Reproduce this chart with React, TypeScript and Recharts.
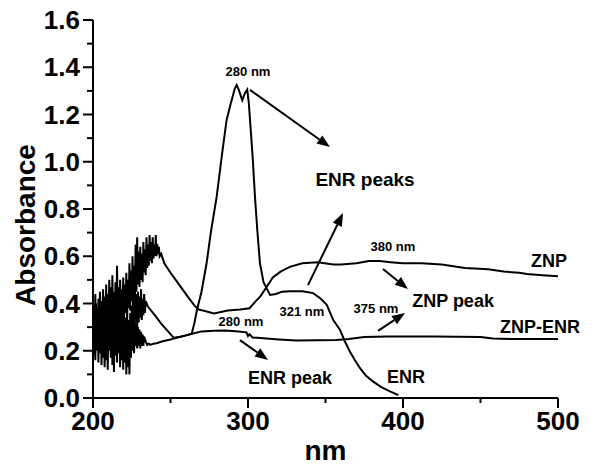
import { LineChart, Line, XAxis, YAxis, ReferenceDot, ReferenceLine } from 'recharts'

// ZNP spectrum (noisy below ~245 nm)
const znpNm = [
  200, 200.5, 201, 201.5, 202, 202.5, 203, 203.5, 204, 204.5, 205, 205.5, 206, 206.5, 207, 207.5,
  208, 208.5, 209, 209.5, 210, 210.5, 211, 211.5, 212, 212.5, 213, 213.5, 214, 214.5, 215, 215.5,
  216, 216.5, 217, 217.5, 218, 218.5, 219, 219.5, 220, 220.5, 221, 221.5, 222, 222.5, 223, 223.5,
  224, 224.5, 225, 225.5, 226, 226.5, 227, 227.5, 228, 228.5, 229, 229.5, 230, 230.5, 231, 231.5,
  232, 232.5, 233, 233.5, 234, 234.5, 235, 235.5, 236, 236.5, 237, 237.5, 238, 238.5, 239, 239.5,
  240, 240.5, 241, 241.5, 242, 242.5, 243, 244, 246, 250, 255, 261, 265, 268, 274, 278,
  287, 295, 301, 305, 308, 312, 316, 321, 327, 335, 345, 355, 360, 370, 378, 385,
  392, 400, 412, 425, 440, 455, 465, 475, 480, 490, 500,
]
const znpAbs = [
  0.22, 0.4, 0.26, 0.44, 0.24, 0.38, 0.21, 0.42, 0.27, 0.45, 0.23, 0.41, 0.28, 0.46, 0.25, 0.43,
  0.22, 0.48, 0.3, 0.44, 0.27, 0.5, 0.31, 0.47, 0.26, 0.52, 0.3, 0.45, 0.28, 0.49, 0.33, 0.56,
  0.31, 0.47, 0.34, 0.5, 0.3, 0.46, 0.35, 0.51, 0.33, 0.48, 0.36, 0.53, 0.34, 0.5, 0.38, 0.57,
  0.37, 0.54, 0.41, 0.6, 0.4, 0.56, 0.44, 0.65, 0.45, 0.68, 0.48, 0.62, 0.47, 0.64, 0.5, 0.61,
  0.49, 0.66, 0.53, 0.63, 0.52, 0.68, 0.55, 0.65, 0.56, 0.69, 0.58, 0.66, 0.57, 0.68, 0.59, 0.65,
  0.6, 0.69, 0.6, 0.65, 0.61, 0.64, 0.6, 0.61, 0.57, 0.53, 0.485, 0.43, 0.395, 0.375, 0.365, 0.358,
  0.37, 0.375, 0.38, 0.41, 0.43, 0.47, 0.51, 0.535, 0.555, 0.57, 0.575, 0.565, 0.565, 0.57, 0.58, 0.58,
  0.575, 0.57, 0.57, 0.565, 0.55, 0.545, 0.535, 0.53, 0.525, 0.52, 0.515,
]

// ZNP-ENR spectrum
const mixNm = [
  200, 200.5, 201, 201.5, 202, 202.5, 203, 203.5, 204, 204.5, 205, 205.5, 206, 206.5, 207, 207.5,
  208, 208.5, 209, 209.5, 210, 210.5, 211, 211.5, 212, 212.5, 213, 213.5, 214, 214.5, 215, 215.5,
  216, 216.5, 217, 217.5, 218, 218.5, 219, 219.5, 220, 220.5, 221, 221.5, 222, 222.5, 223, 223.5,
  224, 224.5, 225, 225.5, 226, 226.5, 227, 227.5, 228, 228.5, 229, 229.5, 230, 230.5, 231, 231.5,
  232, 232.5, 233, 234, 235, 236, 237, 239, 241, 245, 250, 255, 260, 264, 270, 278,
  285, 292, 299, 300, 301, 303, 310, 320, 331, 345, 357, 365, 375, 390, 420, 450,
  458, 470, 500,
]
const mixAbs = [
  0.35, 0.18, 0.38, 0.16, 0.4, 0.2, 0.36, 0.15, 0.42, 0.19, 0.37, 0.14, 0.4, 0.17, 0.35, 0.13,
  0.41, 0.16, 0.38, 0.12, 0.36, 0.2, 0.42, 0.17, 0.38, 0.14, 0.4, 0.11, 0.35, 0.18, 0.39, 0.15,
  0.43, 0.19, 0.37, 0.13, 0.41, 0.16, 0.36, 0.12, 0.39, 0.15, 0.34, 0.1, 0.37, 0.13, 0.33, 0.1,
  0.36, 0.17, 0.39, 0.2, 0.36, 0.19, 0.33, 0.22, 0.31, 0.21, 0.3, 0.22, 0.29, 0.21, 0.28, 0.22,
  0.27, 0.22, 0.26, 0.24, 0.225, 0.23, 0.225, 0.23, 0.232, 0.24, 0.248, 0.257, 0.265, 0.272, 0.282, 0.285,
  0.286, 0.283, 0.278, 0.262, 0.27, 0.256, 0.253, 0.248, 0.243, 0.244, 0.246, 0.25, 0.258, 0.26, 0.26, 0.258,
  0.252, 0.25, 0.25,
]

// ENR spectrum
const enrNm = [
  225.5, 226, 226.5, 227, 227.5, 228, 228.5, 229, 229.5, 230, 230.5, 231, 231.5, 232, 232.5, 233,
  233.5, 234, 235.5, 240, 244, 248, 252, 256, 260, 263.7, 265.5, 267, 270, 273.3, 276, 279.8,
  283, 286.2, 289, 291.5, 292.7, 294, 296.3, 298, 299.5, 300.5, 301.3, 303, 304.5, 306, 307.7, 310,
  311.6, 314.2, 318, 322, 327, 335, 342, 347, 350.8, 355, 359.4, 362.6, 365.8, 369, 372.3, 376,
  380.8, 386, 391.6, 397,
]
const enrAbs = [
  0.32, 0.45, 0.31, 0.46, 0.33, 0.44, 0.3, 0.45, 0.32, 0.43, 0.34, 0.46, 0.33, 0.42, 0.35, 0.44,
  0.36, 0.41, 0.386, 0.35, 0.315, 0.285, 0.255, 0.258, 0.265, 0.272, 0.32, 0.37, 0.45, 0.571, 0.7, 0.852,
  1.02, 1.177, 1.25, 1.31, 1.325, 1.305, 1.26, 1.29, 1.305, 1.25, 1.177, 1.02, 0.852, 0.71, 0.571, 0.49,
  0.47, 0.436, 0.44, 0.45, 0.452, 0.452, 0.444, 0.42, 0.394, 0.33, 0.288, 0.238, 0.196, 0.16, 0.126, 0.095,
  0.069, 0.046, 0.028, 0.012,
]

const xTicks = [200, 250, 300, 350, 400, 450, 500]
const yTicks = [0, 0.1, 0.2, 0.3, 0.4, 0.5, 0.6, 0.7, 0.8, 0.9, 1.0, 1.1, 1.2, 1.3, 1.4, 1.5, 1.6]

// annotation texts: [nm, absorbance, text, fontSize]
const notes: [number, number, string, number][] = [
  [300, 1.38, '280 nm', 13],
  [375.5, 0.923, 'ENR peaks', 19],
  [393.5, 0.643, '380 nm', 13],
  [432.3, 0.41, 'ZNP peak', 18],
  [382.6, 0.377, '375 nm', 13],
  [494.2, 0.58, 'ZNP', 18],
  [488.4, 0.3, 'ZNP-ENR', 18],
  [401.9, 0.089, 'ENR', 18],
  [334.8, 0.368, '321 nm', 13],
  [295.5, 0.322, '280 nm', 13],
  [327.1, 0.085, 'ENR peak', 18],
]

// arrows: from [nm, abs] to [nm, abs]
const arrows: [number, number, number, number][] = [
  [301.3, 1.304, 352.9, 1.062],
  [338.7, 0.478, 361.3, 0.783],
  [387.1, 0.546, 403.2, 0.461],
  [383.9, 0.284, 401.3, 0.36],
  [294.8, 0.245, 312.9, 0.161],
]

const font = '"Liberation Sans", Arial, sans-serif'

const zip = (nm: number[], abs: number[]) => nm.map((n, i) => ({ nm: n, abs: abs[i] }))

const XTick = (props: any) => {
  const { x, y, payload } = props
  const major = payload.value % 100 === 0
  return (
    <g>
      <line x1={x} x2={x} y1={y - 14} y2={y - 14 + (major ? 10 : 5)} stroke="#000" strokeWidth={2} />
      {major && (
        <text x={x} y={y} dy="0.71em" textAnchor="middle" fontSize={26} fontWeight="bold" fontFamily={font} fill="#000">
          {payload.value}
        </text>
      )}
    </g>
  )
}

const YTick = (props: any) => {
  const { x, y, payload } = props
  const major = Math.round(payload.value * 10) % 2 === 0
  return (
    <g>
      <line x1={x + 13 - (major ? 10 : 6)} x2={x + 13} y1={y} y2={y} stroke="#000" strokeWidth={2} />
      {major && (
        <text x={x} y={y} dy="0.355em" textAnchor="end" fontSize={26} fontWeight="bold" fontFamily={font} fill="#000">
          {payload.value.toFixed(1)}
        </text>
      )}
    </g>
  )
}

const Arrow = (props: any) => {
  const { x1, y1, x2, y2 } = props
  const a = Math.atan2(y2 - y1, x2 - x1)
  const len = 13
  const w = 5
  const bx = x2 - len * Math.cos(a)
  const by = y2 - len * Math.sin(a)
  const px = -Math.sin(a) * w
  const py = Math.cos(a) * w
  return (
    <g>
      <line x1={x1} y1={y1} x2={bx} y2={by} stroke="#000" strokeWidth={2} />
      <polygon points={`${x2},${y2} ${bx + px},${by + py} ${bx - px},${by - py}`} fill="#000" />
    </g>
  )
}

export default function App() {
  return (
    <div style={{ position: 'absolute', left: 0, top: 0, width: 611, height: 469, background: '#fff' }}>
      <LineChart width={611} height={469} margin={{ top: 20, right: 53, bottom: 0, left: 0 }}>
        <XAxis
          dataKey="nm"
          type="number"
          domain={[200, 500]}
          ticks={xTicks}
          height={71}
          tickSize={0}
          tickMargin={14}
          tickLine={false}
          axisLine={{ stroke: '#000', strokeWidth: 2 }}
          tick={<XTick />}
          allowDataOverflow
          label={(p: any) => (
            <text
              x={p.viewBox.x + p.viewBox.width / 2}
              y={p.viewBox.y + 62}
              textAnchor="middle"
              fontSize={28}
              fontWeight="bold"
              fontFamily={font}
              fill="#000"
            >
              nm
            </text>
          )}
        />
        <YAxis
          type="number"
          domain={[0, 1.6]}
          ticks={yTicks}
          width={93}
          tickSize={0}
          tickMargin={13}
          tickLine={false}
          axisLine={{ stroke: '#000', strokeWidth: 2 }}
          tick={<YTick />}
          allowDataOverflow
          label={(p: any) => {
            const cx = p.viewBox.x + 25
            const cy = p.viewBox.y + p.viewBox.height / 2 + 16
            return (
              <text
                x={cx}
                y={cy}
                transform={`rotate(-90 ${cx} ${cy})`}
                textAnchor="middle"
                dominantBaseline="central"
                fontSize={28}
                fontWeight="bold"
                fontFamily={font}
                fill="#000"
              >
                Absorbance
              </text>
            )
          }}
        />
        <Line data={zip(znpNm, znpAbs)} dataKey="abs" stroke="#000" strokeWidth={2} dot={false} isAnimationActive={false} />
        <Line data={zip(mixNm, mixAbs)} dataKey="abs" stroke="#000" strokeWidth={2} dot={false} isAnimationActive={false} />
        <Line data={zip(enrNm, enrAbs)} dataKey="abs" stroke="#000" strokeWidth={2} dot={false} isAnimationActive={false} />
        {arrows.map(([ax, ay, bx, by], i) => (
          <ReferenceLine
            key={'a' + i}
            segment={[{ x: ax, y: ay }, { x: bx, y: by }]}
            shape={(p: any) => <Arrow {...p} />}
          />
        ))}
        {notes.map(([nx, ny, t, fs], i) => (
          <ReferenceDot
            key={'n' + i}
            x={nx}
            y={ny}
            r={0}
            shape={(p: any) => (
              <text
                x={p.cx}
                y={p.cy}
                textAnchor="middle"
                dominantBaseline="central"
                fontSize={fs}
                fontWeight="bold"
                fontFamily={font}
                fill="#000"
              >
                {t}
              </text>
            )}
          />
        ))}
      </LineChart>
    </div>
  )
}
